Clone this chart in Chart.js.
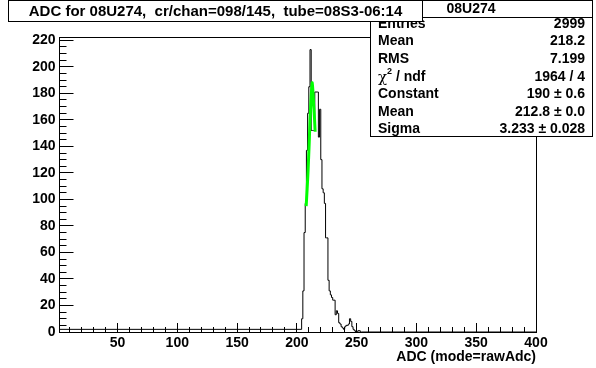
<!DOCTYPE html>
<html>
<head>
<meta charset="utf-8">
<script src="https://cdn.jsdelivr.net/npm/chart.js@4.4.1/dist/chart.umd.min.js"></script>
<style>
  html, body { margin: 0; padding: 0; background: #fff; }
  canvas { display: block; }
</style>
</head>
<body>
<canvas id="adcChart" width="596" height="368"></canvas>
<script>
// histogram: one bin per ADC count, starting at adcStart
const adcStart = 204;
const counts = [
  2, 10, 31, 75, 97, 137, 165, 185, 213, 152,
  152, 152, 181, 181, 181, 147, 168, 130, 108, 105,
  97, 71, 71, 39, 31, 28, 26, 24, 24, 13,
  16, 14, 7, 6, 4, 3, 2, 4, 5, 5,
  6, 10, 8, 4, 2, 1, 0, 0, 1, 1
];

// gaussian fit curve
const fitX = [207.8, 208.6, 209.4, 210.3, 211.1, 212.0, 212.8, 213.4, 214.0, 214.7, 215.3];
const fitY = [95, 108, 122, 142, 162, 178, 188, 182, 172, 162, 151];

// axes
const xMin = 1.5, xMax = 400;
const yMin = 0, yMax = 222.5;
const xTickLabels = [50, 100, 150, 200, 250, 300, 350, 400];
const yTickLabels = [0, 20, 40, 60, 80, 100, 120, 140, 160, 180, 200, 220];

// text
const titleText = "ADC for 08U274,  cr/chan=098/145,  tube=08S3-06:14";
const xTitle = "ADC (mode=rawAdc)";
const statsName = "08U274";
const statsLabels = ["Entries", "Mean", "RMS", "chi2", "Constant", "Mean", "Sigma"];
const statsValues = ["2999", "218.2", "7.199", "1964 / 4", "190 \u00b1 0.6", "212.8 \u00b1 0.0", "3.233 \u00b1 0.028"];

const FONT = "'Liberation Sans', Arial, Helvetica, sans-serif";

// build the step line from the bins
const histPoints = [{ x: xMin, y: 0 }];
counts.forEach((c, i) => histPoints.push({ x: adcStart + i, y: c }));
histPoints.push({ x: adcStart + counts.length, y: 0 });
histPoints.push({ x: xMax, y: 0 });

const fitPoints = fitX.map((x, i) => ({ x: x, y: fitY[i] }));

/**
 * ROOT style frame: inward ticks, box, title pave and stats box
 */
const rootFrame = {
  id: "rootFrame",
  afterDatasetsDraw(chart) {
    const { ctx, chartArea: a } = chart;
    const xs = chart.scales.x, ys = chart.scales.y;
    ctx.save();
    ctx.strokeStyle = "#000";
    ctx.lineWidth = 1;
    ctx.beginPath();
    // x ticks, major every 50 and minor every 10
    for (let v = 10; v <= xMax; v += 10) {
      const px = Math.floor(xs.getPixelForValue(v)) + 0.5;
      const len = v % 50 === 0 ? 9 : 5;
      ctx.moveTo(px, a.bottom);
      ctx.lineTo(px, a.bottom - len);
    }
    // y ticks, major every 20 and minor every 5
    for (let v = 0; v <= yMax; v += 5) {
      const py = Math.floor(ys.getPixelForValue(v)) + 0.5;
      const len = v % 20 === 0 ? 14 : 7;
      ctx.moveTo(a.left, py);
      ctx.lineTo(a.left + len, py);
    }
    ctx.stroke();
    ctx.strokeRect(Math.floor(a.left) + 0.5, Math.floor(a.top) + 0.5,
      Math.round(a.right - a.left), Math.round(a.bottom - a.top));
    ctx.restore();
  },
  afterDraw(chart) {
    const { ctx } = chart;
    ctx.save();
    ctx.fillStyle = "#fff";
    ctx.strokeStyle = "#000";
    ctx.lineWidth = 1;

    // stats box
    const sx = 370.5, sy = 0.5, sw = 222, sh = 136;
    ctx.fillRect(sx, sy, sw, sh);
    ctx.strokeRect(sx, sy, sw, sh);
    ctx.beginPath();
    ctx.moveTo(sx, 17.5);
    ctx.lineTo(sx + sw, 17.5);
    ctx.stroke();

    ctx.fillStyle = "#000";
    ctx.textBaseline = "middle";
    ctx.font = "bold 14px " + FONT;
    ctx.textAlign = "center";
    ctx.fillText(statsName, 471, 9);

    const rowY0 = 24, rowStep = 17.6;
    statsLabels.forEach((lab, i) => {
      const y = rowY0 + i * rowStep;
      ctx.textAlign = "left";
      if (lab === "chi2") {
        ctx.font = "15px 'DejaVu Serif', serif";
        ctx.fillText("\u03c7", 378, y + 1);
        ctx.font = "bold 9px " + FONT;
        ctx.fillText("2", 387, y - 5);
        ctx.font = "bold 14px " + FONT;
        ctx.fillText(" / ndf", 392, y);
      } else {
        ctx.font = "bold 14px " + FONT;
        ctx.fillText(lab, 378, y);
      }
      ctx.textAlign = "right";
      ctx.font = "bold 14px " + FONT;
      ctx.fillText(statsValues[i], 585, y);
    });

    // title pave
    const tx = 8.5, ty = 0.5, tw = 414, th = 21;
    ctx.fillStyle = "#fff";
    ctx.fillRect(tx, ty, tw, th);
    ctx.strokeRect(tx, ty, tw, th);
    ctx.fillStyle = "#000";
    ctx.font = "bold 15px " + FONT;
    ctx.textAlign = "center";
    ctx.fillText(titleText, tx + tw / 2, 11.5);
    ctx.restore();
  }
};

const ctx = document.getElementById("adcChart").getContext("2d");
const adcChart = new Chart(ctx, {
  type: "line",
  data: {
    datasets: [
      {
        label: "gaus",
        data: fitPoints,
        borderColor: "#00ff00",
        borderWidth: 3,
        pointRadius: 0,
        tension: 0.2,
        order: 0
      },
      {
        label: "adc",
        data: histPoints,
        borderColor: "#000",
        borderWidth: 1,
        pointRadius: 0,
        stepped: "after",
        order: 1
      }
    ]
  },
  options: {
    responsive: false,
    animation: false,
    events: [],
    layout: { padding: { left: 0, right: 60, top: 37, bottom: 0 } },
    plugins: {
      legend: { display: false },
      tooltip: { enabled: false }
    },
    scales: {
      x: {
        type: "linear",
        min: xMin,
        max: xMax,
        afterBuildTicks: (s) => { s.ticks = xTickLabels.map((v) => ({ value: v })); },
        afterFit: (s) => { s.height = 36; },
        grid: { display: false, drawTicks: false },
        border: { display: true, color: "#000", width: 1 },
        ticks: {
          color: "#000",
          padding: 3,
          maxRotation: 0,
          autoSkip: false,
          font: { family: FONT, weight: "bold", size: 14 }
        },
        title: {
          display: true,
          text: xTitle,
          align: "end",
          color: "#000",
          padding: { top: 0, bottom: 2 },
          font: { family: FONT, weight: "bold", size: 14 }
        }
      },
      y: {
        type: "linear",
        min: yMin,
        max: yMax,
        afterBuildTicks: (s) => { s.ticks = yTickLabels.map((v) => ({ value: v })); },
        afterFit: (s) => { s.width = 59.5; },
        grid: { display: false, drawTicks: false },
        border: { display: true, color: "#000", width: 1 },
        ticks: {
          color: "#000",
          padding: 4,
          autoSkip: false,
          font: { family: FONT, weight: "bold", size: 14 }
        }
      }
    }
  },
  plugins: [rootFrame]
});
</script>
</body>
</html>
